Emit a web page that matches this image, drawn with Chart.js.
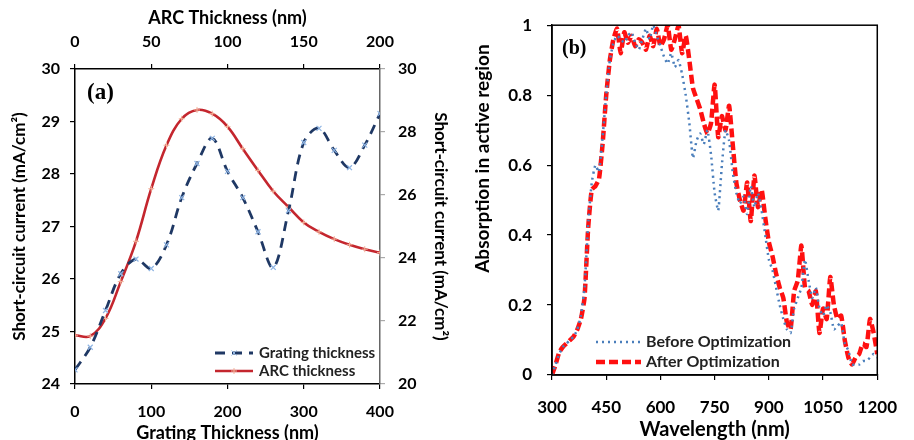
<!DOCTYPE html>
<html><head><meta charset="utf-8">
<script src="https://cdn.jsdelivr.net/npm/chart.js@4/dist/chart.umd.min.js"></script>
<style>
html,body{margin:0;padding:0;background:#fff;}
#wrap{position:relative;width:914px;height:440px;overflow:hidden;background:#fff;}
.c{position:absolute;top:0;width:457px;height:440px;}
</style></head><body>
<div id="wrap">
<div class="c" style="left:0"><canvas id="ca" width="457" height="440"></canvas></div>
<div class="c" style="left:457px"><canvas id="cb" width="457" height="440"></canvas></div>
</div>
<script>
// ---------- Panel (a) data ----------
const gratingThickness = [0,20,40,60,80,100,120,140,160,180,200,220,240,260,280,300,320,340,360,380,400];
const gratingJsc = [24.27,24.7,25.4,26.1,26.38,26.2,26.65,27.55,28.2,28.68,28.05,27.55,26.9,26.22,27.3,28.6,28.87,28.45,28.12,28.55,29.15];
const arcThickness = [0,10,20,30,40,50,60,70,80,90,100,110,120,130,140,150,160,170,180,190,200];
const arcJsc = [21.55,21.52,22.08,23.25,24.53,26.2,27.58,28.42,28.7,28.58,28.17,27.47,26.78,26.12,25.62,25.13,24.83,24.6,24.42,24.28,24.17];
const legendA = ['Grating thickness','ARC thickness'];

// ---------- Panel (b) data ----------
const wavelength = [300,310,320,330,340,350,360,370,380,390,400,410,420,430,440,450,460,470,480,490,500,510,520,530,540,550,560,570,580,590,600,610,620,630,640,650,660,670,680,690,700,710,720,730,740,750,760,770,780,790,800,810,820,830,840,850,860,870,880,890,900,910,920,930,940,950,960,970,980,990,1000,1010,1020,1030,1040,1050,1060,1070,1080,1090,1100,1110,1120,1130,1140,1150,1160,1170,1180,1190,1200];
const absBefore = [0,0.03,0.06,0.08,0.09,0.10,0.11,0.13,0.17,0.25,0.43,0.55,0.60,0.58,0.68,0.80,0.90,0.95,0.97,0.96,0.95,0.97,0.98,0.95,0.93,0.96,0.99,0.96,1.00,0.97,0.94,0.91,0.89,0.92,0.88,0.90,0.86,0.80,0.72,0.62,0.67,0.69,0.66,0.70,0.63,0.52,0.47,0.60,0.70,0.67,0.58,0.52,0.49,0.51,0.46,0.54,0.48,0.52,0.47,0.40,0.33,0.30,0.25,0.20,0.16,0.13,0.12,0.19,0.22,0.25,0.33,0.27,0.22,0.25,0.19,0.17,0.20,0.18,0.13,0.14,0.15,0.09,0.07,0.03,0.03,0.03,0.04,0.04,0.05,0.06,0.05];
const absAfter = [0,0.03,0.065,0.08,0.09,0.10,0.11,0.13,0.16,0.22,0.42,0.53,0.54,0.56,0.66,0.80,0.90,0.96,0.99,0.92,0.98,0.95,0.97,0.94,0.96,0.95,0.93,0.97,0.94,0.99,0.94,0.96,1.00,0.93,0.96,1.00,0.92,0.97,0.90,0.82,0.79,0.76,0.72,0.69,0.72,0.83,0.68,0.74,0.70,0.77,0.66,0.55,0.50,0.47,0.55,0.44,0.57,0.48,0.53,0.45,0.38,0.34,0.29,0.25,0.22,0.15,0.13,0.24,0.27,0.37,0.25,0.24,0.20,0.24,0.12,0.19,0.16,0.28,0.20,0.16,0.17,0.10,0.05,0.03,0.05,0.06,0.09,0.08,0.16,0.12,0.06];
const legendB = ['Before Optimization','After Optimization'];

const FONT = 'Lato, "Open Sans", sans-serif';
const tickFontA = {family: FONT, size: 16, weight: 'bold'};
const tickFontB = {family: FONT, size: 17, weight: 'bold'};

function pts(xs, ys){ return xs.map((x,i)=>({x:x, y:ys[i]})); }
function fixW(w){ return s => { s.width = w; }; }
function fixH(h){ return s => { s.height = h; }; }
const tickGrid = {display:true, drawOnChartArea:false, drawTicks:true, tickLength:5, color:'#000', lineWidth:1.2};

function drawLegendRow(ctx, d, x0, x1, y, text, tx, font){
  ctx.save();
  ctx.strokeStyle = d.borderColor;
  ctx.lineWidth = d.borderWidth;
  ctx.setLineDash(d.borderDash || []);
  ctx.beginPath(); ctx.moveTo(x0,y); ctx.lineTo(x1,y); ctx.stroke();
  ctx.restore();
  if (d.pointRadius) {
    ctx.save();
    ctx.strokeStyle = d.pointBorderColor;
    ctx.fillStyle = d.pointBackgroundColor;
    Chart.helpers.drawPoint(ctx, {pointStyle:d.pointStyle, radius:d.pointRadius, borderWidth:d.pointBorderWidth, rotation:0}, (x0+x1)/2, y);
    ctx.restore();
  }
  ctx.save();
  ctx.fillStyle = '#222';
  ctx.font = font;
  ctx.textBaseline = 'middle';
  ctx.textAlign = 'left';
  ctx.fillText(text, tx, y);
  ctx.restore();
}

// ---------- Panel (a) ----------
const legendPluginA = {
  id:'legA',
  afterDraw(chart){
    const ctx = chart.ctx;
    ctx.save();
    ctx.font = 'bold 23px "Liberation Serif", "DejaVu Serif", serif';
    ctx.fillStyle = '#000';
    ctx.textBaseline = 'middle';
    ctx.textAlign = 'left';
    ctx.fillText('(a)', 87, 93);
    ctx.restore();
    const ds = chart.data.datasets;
    const rows = [353, 371];
    ds.forEach((d,i)=> drawLegendRow(ctx, d, 215, 253, rows[i], d.label, 259, 'bold 15px ' + FONT));
  }
};

new Chart(document.getElementById('ca'), {
  type:'line',
  data:{
    datasets:[
      {label:legendA[0], data:pts(gratingThickness, gratingJsc), xAxisID:'x', yAxisID:'y',
       borderColor:'#1f3864', borderWidth:2.8, borderDash:[10,7], tension:0.35,
       pointStyle:'crossRot', pointRadius:3.5, pointBorderColor:'#8eb4e3', pointBorderWidth:1.2, pointBackgroundColor:'#8eb4e3'},
      {label:legendA[1], data:pts(arcThickness, arcJsc), xAxisID:'x2', yAxisID:'y2',
       borderColor:'#c4262e', borderWidth:2.6, tension:0.4,
       pointStyle:'cross', pointRadius:3, pointBorderColor:'#f3b39a', pointBorderWidth:1, pointBackgroundColor:'#f3b39a'}
    ]
  },
  options:{
    responsive:false, animation:false, devicePixelRatio:1,
    layout:{padding:0},
    plugins:{legend:{display:false}, tooltip:{enabled:false}},
    scales:{
      x:{type:'linear', position:'bottom', min:0, max:400,
         ticks:{stepSize:100, font:tickFontA, color:'#000', padding:13, maxRotation:0},
         grid:tickGrid, border:{display:true, color:'#000', width:1.5},
         title:{display:true, text:'Grating Thickness (nm)', font:{family:FONT, size:18, weight:'bold'}, color:'#000', padding:{top:0,bottom:-4}},
         afterFit:fixH(56)},
      x2:{type:'linear', position:'top', min:0, max:200,
         ticks:{stepSize:50, font:tickFontA, color:'#000', padding:13, maxRotation:0},
         grid:tickGrid, border:{display:true, color:'#000', width:1.5},
         title:{display:true, text:'ARC Thickness (nm)', font:{family:FONT, size:18, weight:'bold'}, color:'#000', padding:{top:7,bottom:0}},
         afterFit:fixH(69)},
      y:{type:'linear', position:'left', min:24, max:30,
         ticks:{stepSize:1, font:tickFontA, color:'#000', padding:10},
         grid:tickGrid, border:{display:true, color:'#000', width:1.5},
         title:{display:true, text:'Short-circuit current (mA/cm²)', font:{family:FONT, size:17, weight:'bold'}, color:'#000', padding:{top:9,bottom:0}},
         afterFit:fixW(75)},
      y2:{type:'linear', position:'right', min:20, max:30,
         ticks:{stepSize:2, font:tickFontA, color:'#000', padding:13},
         grid:Object.assign({}, tickGrid, {color:'#aaa'}), border:{display:true, color:'#666', width:1.5},
         title:{display:true, text:'Short-circuit current (mA/cm²)', font:{family:FONT, size:17, weight:'bold'}, color:'#000', padding:{top:6,bottom:0}},
         afterFit:fixW(77)}
    }
  },
  plugins:[legendPluginA]
});

// ---------- Panel (b) ----------
const legendPluginB = {
  id:'legB',
  afterDraw(chart){
    const ctx = chart.ctx, a = chart.chartArea;
    ctx.save();
    ctx.strokeStyle = '#000'; ctx.lineWidth = 1.5;
    ctx.strokeRect(a.left, a.top, a.right - a.left, a.bottom - a.top);
    ctx.font = 'bold 20px "Liberation Serif", "DejaVu Serif", serif';
    ctx.fillStyle = '#000';
    ctx.textBaseline = 'middle';
    ctx.textAlign = 'left';
    ctx.fillText('(b)', 105, 49);
    ctx.restore();
    const byLabel = {};
    chart.data.datasets.forEach(d => byLabel[d.label] = d);
    const rows = [342, 362];
    legendB.forEach((lab,i)=> drawLegendRow(ctx, byLabel[lab], 139, 184, rows[i], lab, 189, 'bold 16px ' + FONT));
  }
};

new Chart(document.getElementById('cb'), {
  type:'line',
  data:{
    datasets:[
      {label:legendB[1], data:pts(wavelength, absAfter), borderColor:'#ff1010', borderWidth:4.5, borderDash:[9,4],
       pointRadius:0, tension:0.15, order:2},
      {label:legendB[0], data:pts(wavelength, absBefore), borderColor:'#4a7ebb', borderWidth:2.5, borderDash:[2,4],
       pointRadius:0, tension:0.15, order:1}
    ]
  },
  options:{
    responsive:false, animation:false, devicePixelRatio:1,
    layout:{padding:{top:23, right:25, left:0, bottom:0}},
    plugins:{legend:{display:false}, tooltip:{enabled:false}},
    scales:{
      x:{type:'linear', position:'bottom', min:300, max:1200,
         ticks:{stepSize:150, font:tickFontB, color:'#000', padding:17, maxRotation:0, autoSkip:false,
                callback:v => String(v)},
         grid:tickGrid, border:{display:true, color:'#000', width:1.5},
         title:{display:true, text:'Wavelength (nm)', font:{family:FONT, size:20, weight:'bold'}, color:'#000', padding:{top:0,bottom:-2}},
         afterFit:fixH(65)},
      y:{type:'linear', position:'left', min:0, max:1,
         ticks:{stepSize:0.2, font:tickFontB, color:'#000', padding:15,
                callback:v => (Math.abs(v) < 1e-9 ? '0' : Math.abs(v-1) < 1e-9 ? '1' : v.toFixed(1))},
         grid:tickGrid, border:{display:true, color:'#000', width:1.5},
         title:{display:true, text:'                  Absorption in active region', font:{family:FONT, size:19, weight:'bold'}, color:'#000', padding:{top:14,bottom:0}},
         afterFit:fixW(95)}
    }
  },
  plugins:[legendPluginB]
});
</script>
</body></html>
